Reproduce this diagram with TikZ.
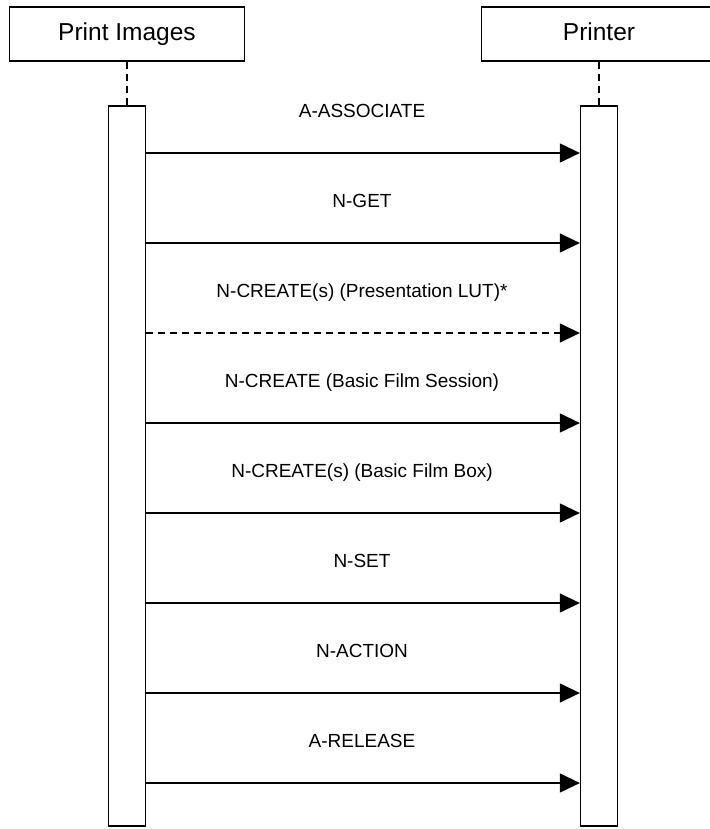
\documentclass[tikz,border=0pt]{standalone}
\usepackage{fontspec}
\setmainfont{Liberation Sans}
\usetikzlibrary{arrows.meta}

\tikzset{
    headbox/.style={draw=black, line width=1.3pt, fill=white, minimum width=235pt, minimum height=54pt, inner sep=0pt, text height=18pt, text depth=5pt, font=\fontsize{24.5}{28}\selectfont},
    actbar/.style={draw=black, line width=1.3pt, fill=white, minimum width=37pt, minimum height=720pt, inner sep=0pt},
    lifeline/.style={draw=black, line width=1.3pt, dash pattern=on 7pt off 5pt},
    msg/.style={draw=black, line width=1.3pt, -{Triangle[length=20pt,width=19pt]}},
    msglbl/.style={inner sep=0pt, anchor=base, font=\fontsize{19}{22}\selectfont}
}

\begin{document}
\begin{tikzpicture}[x=1pt, y=-1pt]
        \useasboundingbox (0,0) rectangle (709,829);
        % participants
        \node[headbox] (pi) at (127,34) {Print Images};
        \node[headbox] (pr) at (599,34) {Printer};
        \node[actbar] (pibar) at (127,466) {};
        \node[actbar] (prbar) at (599,466) {};
        \draw[lifeline] (pi.south) -- (pibar.north);
        \draw[lifeline] (pr.south) -- (prbar.north);
        % messages
        \node[msglbl] (m1) at (362,117.5) {A-ASSOCIATE};
        \draw[msg] (pibar.east |- 0,153) -- (prbar.west |- 0,153);
        \node[msglbl] (m2) at (362,207.5) {N-GET};
        \draw[msg] (pibar.east |- 0,243) -- (prbar.west |- 0,243);
        \node[msglbl] (m3) at (362,297.5) {N-CREATE(s) (Presentation LUT)*};
        \draw[msg, dash pattern=on 7pt off 5pt] (pibar.east |- 0,333) -- (prbar.west |- 0,333);
        \node[msglbl] (m4) at (362,387.5) {N-CREATE (Basic Film Session)};
        \draw[msg] (pibar.east |- 0,423) -- (prbar.west |- 0,423);
        \node[msglbl] (m5) at (362,477.5) {N-CREATE(s) (Basic Film Box)};
        \draw[msg] (pibar.east |- 0,513) -- (prbar.west |- 0,513);
        \node[msglbl] (m6) at (362,567.5) {N-SET};
        \draw[msg] (pibar.east |- 0,603) -- (prbar.west |- 0,603);
        \node[msglbl] (m7) at (362,657.5) {N-ACTION};
        \draw[msg] (pibar.east |- 0,693) -- (prbar.west |- 0,693);
        \node[msglbl] (m8) at (362,747.5) {A-RELEASE};
        \draw[msg] (pibar.east |- 0,783) -- (prbar.west |- 0,783);
\end{tikzpicture}
\end{document}
